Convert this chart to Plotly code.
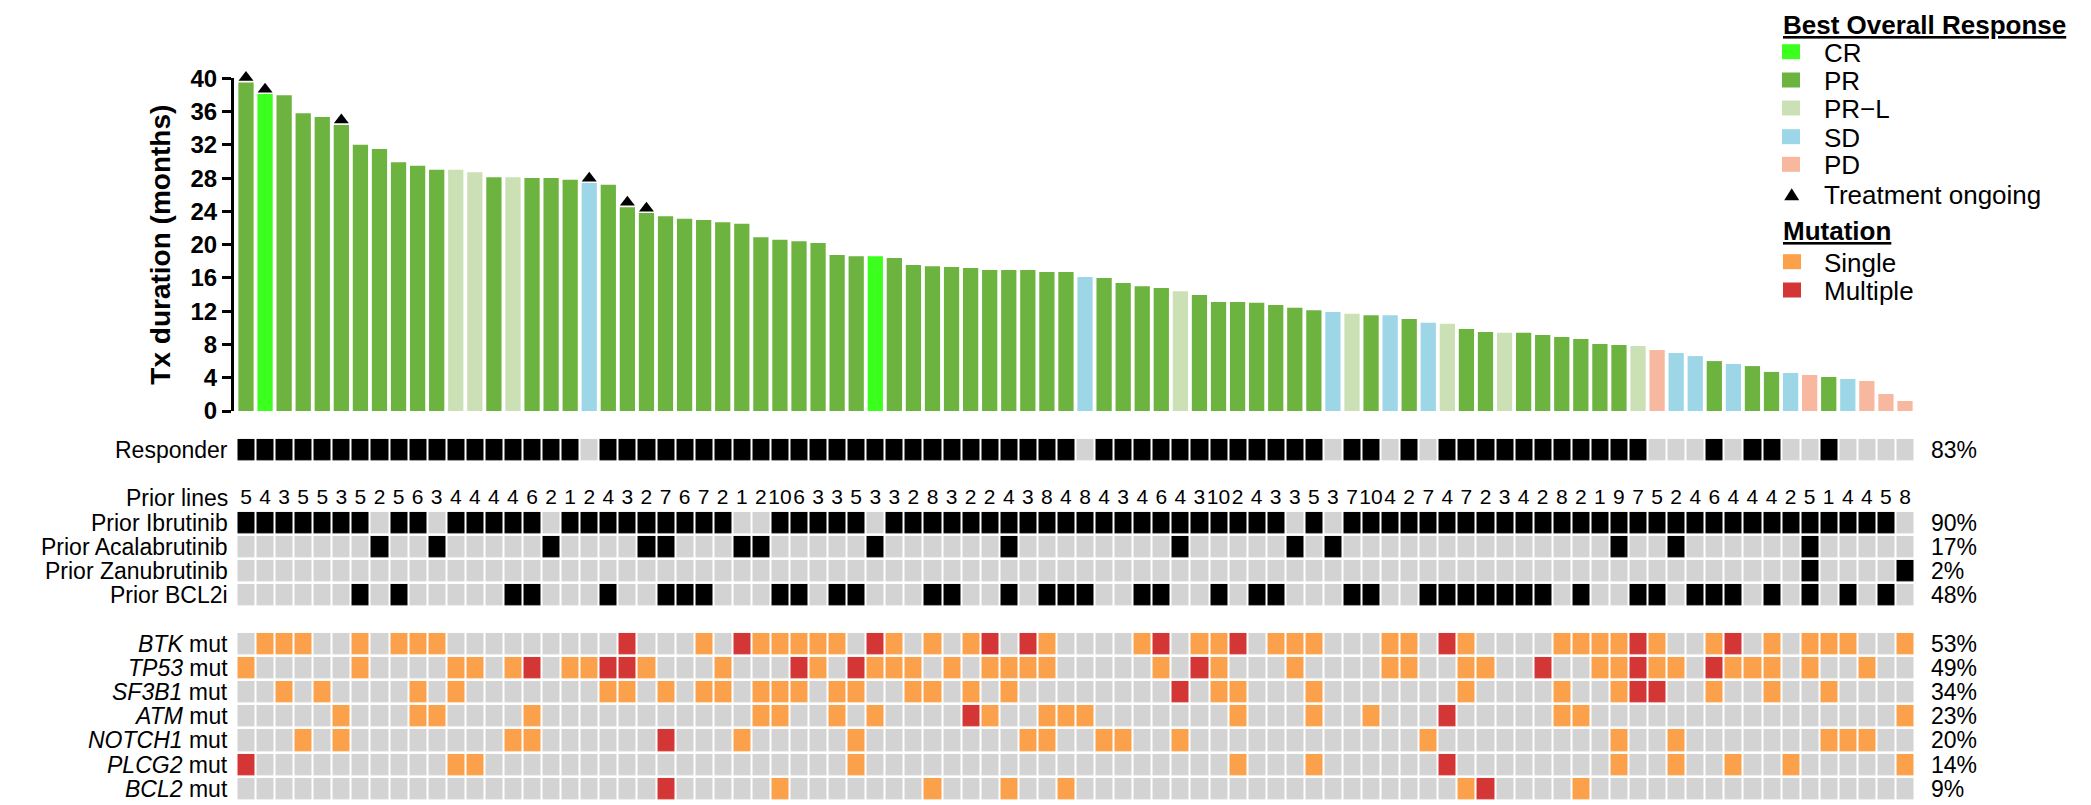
import plotly.graph_objects as go

W, H = 2091, 805
OFF = 8  # default page body margin: the figure starts 8px from the page corner
FONT = "Liberation Sans, Arial, Helvetica, sans-serif"

# ---------------- data ----------------
patients = list(range(1, 89))

durations = [39.5, 38.1, 37.95, 35.8, 35.35, 34.4, 32.0, 31.5, 29.9, 29.5,
             29.0, 29.0, 28.7, 28.1, 28.1, 28.0, 28.0, 27.8, 27.4, 27.2,
             24.5, 23.8, 23.4, 23.1, 22.97, 22.7, 22.5, 20.9, 20.6, 20.4,
             20.2, 18.76, 18.6, 18.6, 18.4, 17.55, 17.4, 17.3, 17.2, 16.95,
             16.95, 16.95, 16.7, 16.7, 16.1, 16.0, 15.4, 15.0, 14.8, 14.4,
             13.95, 13.1, 13.1, 13.0, 12.75, 12.4, 12.1, 11.9, 11.7, 11.5,
             11.5, 11.06, 10.6, 10.5, 9.86, 9.5, 9.4, 9.4, 9.14, 8.9,
             8.66, 8.06, 7.94, 7.8, 7.33, 6.97, 6.6, 6.0, 5.65, 5.4,
             4.7, 4.57, 4.33, 4.1, 3.85, 3.6, 2.04, 1.2]

responses = ["PR", "CR", "PR", "PR", "PR", "PR", "PR", "PR", "PR", "PR",
             "PR", "PR-L", "PR-L", "PR", "PR-L", "PR", "PR", "PR", "SD", "PR",
             "PR", "PR", "PR", "PR", "PR", "PR", "PR", "PR", "PR", "PR",
             "PR", "PR", "PR", "CR", "PR", "PR", "PR", "PR", "PR", "PR",
             "PR", "PR", "PR", "PR", "SD", "PR", "PR", "PR", "PR", "PR-L",
             "PR", "PR", "PR", "PR", "PR", "PR", "PR", "SD", "PR-L", "PR",
             "SD", "PR", "SD", "PR-L", "PR", "PR", "PR-L", "PR", "PR", "PR",
             "PR", "PR", "PR", "PR-L", "PD", "SD", "SD", "PR", "SD", "PR",
             "PR", "SD", "PD", "PR", "SD", "PD", "PD", "PD"]

ongoing = [1, 2, 6, 19, 21, 22]

prior_lines = [5, 4, 3, 5, 5, 3, 5, 2, 5, 6,
               3, 4, 4, 4, 4, 6, 2, 1, 2, 4,
               3, 2, 7, 6, 7, 2, 1, 2, 10, 6,
               3, 3, 5, 3, 3, 2, 8, 3, 2, 2,
               4, 3, 8, 4, 8, 4, 3, 4, 6, 4,
               3, 10, 2, 4, 3, 3, 5, 3, 7, 10,
               4, 2, 7, 4, 7, 2, 3, 4, 2, 8,
               2, 1, 9, 7, 5, 2, 4, 6, 4, 4,
               4, 2, 5, 1, 4, 4, 5, 8]

prior_ibrutinib = [1, 1, 1, 1, 1, 1, 1, 0, 1, 1,
                   0, 1, 1, 1, 1, 1, 0, 1, 1, 1,
                   1, 1, 1, 1, 1, 1, 0, 0, 1, 1,
                   1, 1, 1, 0, 1, 1, 1, 1, 1, 1,
                   1, 1, 1, 1, 1, 1, 1, 1, 1, 1,
                   1, 1, 1, 1, 1, 0, 1, 0, 1, 1,
                   1, 1, 1, 1, 1, 1, 1, 1, 1, 1,
                   1, 1, 1, 1, 1, 1, 1, 1, 1, 1,
                   1, 1, 1, 1, 1, 1, 1, 0]
prior_acalabrutinib_pts = [8, 11, 17, 22, 23, 27, 28, 34, 41, 50, 56, 58, 73, 76, 83]
prior_zanubrutinib_pts = [83, 88]
prior_bcl2i_pts = [7, 9, 15, 16, 20, 23, 24, 25, 29, 30, 32, 33, 37, 38, 41, 43, 44,
                   45, 48, 49, 52, 54, 55, 59, 60, 63, 64, 65, 66, 67, 68, 69, 71,
                   74, 75, 77, 78, 79, 81, 83, 85, 87]

btk_single = [2, 3, 4, 7, 9, 10, 11, 25, 28, 29, 30, 31, 32, 35, 37, 39, 43, 48, 51,
              52, 55, 56, 57, 61, 62, 65, 70, 71, 72, 73, 75, 78, 81, 83, 84, 85, 88]
btk_multiple = [21, 27, 34, 40, 42, 49, 53, 64, 74, 79]
tp53_single = [1, 7, 12, 13, 15, 18, 19, 22, 26, 31, 34, 35, 36, 38, 40, 41, 42, 43,
               49, 52, 56, 61, 62, 65, 66, 72, 73, 75, 76, 79, 80, 81, 83, 86]
tp53_multiple = [16, 20, 21, 30, 33, 51, 69, 74, 78]
sf3b1_single = [3, 5, 10, 12, 20, 21, 23, 25, 26, 28, 29, 30, 32, 33, 36, 37, 39, 41,
                52, 53, 57, 65, 70, 73, 78, 81, 84]
sf3b1_multiple = [50, 74, 75]
atm_single = [6, 10, 11, 16, 28, 29, 32, 34, 40, 43, 44, 45, 53, 57, 60, 70, 71, 88]
atm_multiple = [39, 64]
notch1_single = [4, 6, 15, 16, 27, 33, 42, 43, 46, 47, 50, 63, 73, 76, 84, 85, 86]
notch1_multiple = [23]
plcg2_single = [12, 13, 33, 53, 57, 73, 76, 79, 82, 88]
plcg2_multiple = [1, 64]
bcl2_single = [29, 37, 41, 44, 65, 71]
bcl2_multiple = [23, 66]

tick_values = [0, 4, 8, 12, 16, 20, 24, 28, 32, 36, 40]

response_colors = {"CR": "#3BFF1C", "PR": "#6DB33F", "PR-L": "#CBE0B5",
                   "SD": "#9DD6E6", "PD": "#F8B89F"}
legend_items = [("CR", "CR"), ("PR", "PR"), ("PR-L", "PR\u2212L"), ("SD", "SD"), ("PD", "PD")]
GRAY, BLACK, ORANGE, RED = "#D3D3D3", "#000000", "#FBA04B", "#D43535"

# ---------------- helpers (page pixels -> paper fractions) ----------------
def px(x):
    return (x - OFF) / W


def py(y):
    return 1 - (y - OFF) / H


def flags(pts):
    return [1 if p in pts else 0 for p in patients]


def mut_codes(single, multiple):
    return [3 if p in multiple else (2 if p in single else 0) for p in patients]


responder = [1 if r in ("CR", "PR", "PR-L") else 0 for r in responses]
empty = [None] * len(patients)

rows = [
    ("Responder", responder),
    ("", empty),
    ("Prior lines", empty),
    ("Prior Ibrutinib", prior_ibrutinib),
    ("Prior Acalabrutinib", flags(prior_acalabrutinib_pts)),
    ("Prior Zanubrutinib", flags(prior_zanubrutinib_pts)),
    ("Prior BCL2i", flags(prior_bcl2i_pts)),
    ("", empty),
    ("<i>BTK</i> mut", mut_codes(btk_single, btk_multiple)),
    ("<i>TP53</i> mut", mut_codes(tp53_single, tp53_multiple)),
    ("<i>SF3B1</i> mut", mut_codes(sf3b1_single, sf3b1_multiple)),
    ("<i>ATM</i> mut", mut_codes(atm_single, atm_multiple)),
    ("<i>NOTCH1</i> mut", mut_codes(notch1_single, notch1_multiple)),
    ("<i>PLCG2</i> mut", mut_codes(plcg2_single, plcg2_multiple)),
    ("<i>BCL2</i> mut", mut_codes(bcl2_single, bcl2_multiple)),
]
row_idx = list(range(len(rows)))
z = [r[1] for r in rows]

# ---------------- geometry ----------------
pitch = (1905 - 246) / 87
x_left = 246 - pitch / 2
x_right = 1905 + pitch / 2
row_pitch = 24.2
grid_top = 450 - row_pitch / 2
grid_bot = grid_top + row_pitch * len(rows)
y0_px, y40_px = 411.0, 78.3
px_per_month = (y0_px - y40_px) / 40
marker_top_px = 40.0
marker_range_top = (y0_px - marker_top_px) / px_per_month

fig = go.Figure()

fig.add_trace(go.Bar(
    x=patients, y=durations,
    marker=dict(color=[response_colors[r] for r in responses], line=dict(width=0)),
    hoverinfo="skip", xaxis="x", yaxis="y"))

tri_size = 13
fig.add_trace(go.Scatter(
    x=ongoing,
    y=[durations[p - 1] + (tri_size / 4 + 1.6) / px_per_month for p in ongoing],
    mode="markers",
    marker=dict(symbol="triangle-up", size=tri_size, color="black", line=dict(width=0)),
    hoverinfo="skip", xaxis="x", yaxis="y3"))

fig.add_trace(go.Heatmap(
    x=patients, y=row_idx, z=z, zmin=0, zmax=3,
    colorscale=[[0, GRAY], [0.1667, GRAY], [0.1667, BLACK], [0.5, BLACK],
                [0.5, ORANGE], [0.8333, ORANGE], [0.8333, RED], [1, RED]],
    showscale=False, xgap=2, ygap=2.6, hoverinfo="skip",
    xaxis="x", yaxis="y2"))

fig.add_trace(go.Scatter(
    x=patients, y=[2] * len(patients), mode="text",
    text=[str(v) for v in prior_lines],
    textfont=dict(size=21, color="black", family=FONT),
    textposition="middle center", cliponaxis=False, hoverinfo="skip",
    xaxis="x", yaxis="y2"))

annotations = []
for i, (label, vals) in enumerate(rows):
    if label:
        annotations.append(dict(
            x=px(230), xref="paper", y=i, yref="y2", xanchor="right", yanchor="middle",
            text=label, showarrow=False, font=dict(size=23, family=FONT, color="black")))
    if vals is not empty:
        pct = round(100 * sum(1 for v in vals if v) / len(vals))
        annotations.append(dict(
            x=px(1929), xref="paper", y=i, yref="y2", xanchor="left", yanchor="middle",
            text=f"{pct}%", showarrow=False, font=dict(size=23, family=FONT, color="black")))

# ---------------- custom legend ----------------
shapes = []
annotations.append(dict(x=px(1781), y=1.0, xref="paper", yref="paper",
                        xanchor="left", yanchor="top", showarrow=False,
                        text="<b><u>Best Overall Response</u></b>",
                        font=dict(size=26, family=FONT, color="black")))
item_y = [51.7, 80, 108, 136.7, 164.3]
for (key, lab), yc in zip(legend_items, item_y):
    shapes.append(dict(type="rect", xref="paper", yref="paper",
                       x0=px(1782), x1=px(1800), y0=py(yc + 7.5), y1=py(yc - 7.5),
                       fillcolor=response_colors[key], line=dict(width=0)))
    annotations.append(dict(x=px(1822), y=py(yc + 1), xref="paper", yref="paper",
                            xanchor="left", yanchor="middle", showarrow=False, text=lab,
                            font=dict(size=26, family=FONT, color="black")))
tc = 194.3
shapes.append(dict(type="path", xref="paper", yref="paper",
                   path=f"M{px(1784.2)},{py(tc + 6)} L{px(1799.2)},{py(tc + 6)} L{px(1791.7)},{py(tc - 6)} Z",
                   fillcolor="black", line=dict(width=0)))
annotations.append(dict(x=px(1822), y=py(tc + 1), xref="paper", yref="paper",
                        xanchor="left", yanchor="middle", showarrow=False,
                        text="Treatment ongoing", font=dict(size=26, family=FONT, color="black")))
annotations.append(dict(x=px(1781), y=py(231), xref="paper", yref="paper",
                        xanchor="left", yanchor="middle", showarrow=False,
                        text="<b><u>Mutation</u></b>",
                        font=dict(size=26, family=FONT, color="black")))
for lab, col, yc in [("Single", ORANGE, 261.7), ("Multiple", RED, 290)]:
    shapes.append(dict(type="rect", xref="paper", yref="paper",
                       x0=px(1783), x1=px(1801), y0=py(yc + 7.5), y1=py(yc - 7.5),
                       fillcolor=col, line=dict(width=0)))
    annotations.append(dict(x=px(1822), y=py(yc + 1), xref="paper", yref="paper",
                            xanchor="left", yanchor="middle", showarrow=False, text=lab,
                            font=dict(size=26, family=FONT, color="black")))

fig.update_layout(
    template="none",
    width=W, height=H, margin=dict(l=0, r=0, t=0, b=0, pad=0, autoexpand=False),
    paper_bgcolor="white", plot_bgcolor="rgba(0,0,0,0)",
    showlegend=False, bargap=0.2,
    font=dict(family=FONT, color="black"),
    xaxis=dict(domain=[px(x_left), px(x_right)], range=[0.5, 88.5], visible=False,
               anchor="y", fixedrange=True, automargin=False, showgrid=False, zeroline=False),
    yaxis=dict(domain=[py(y0_px), py(y40_px)], range=[0, 40], anchor="free",
               position=px(231.7), showline=True, linewidth=2.6, linecolor="black",
               ticks="outside", ticklen=9, tickwidth=2.6, tickcolor="black",
               tickvals=tick_values, showgrid=False, zeroline=False, automargin=False,
               tickfont=dict(size=24, family=FONT, color="black", weight="bold"),
               title=dict(text="Tx duration (months)", standoff=10,
                          font=dict(size=28, family=FONT, color="black", weight="bold"))),
    yaxis2=dict(domain=[py(grid_bot), py(grid_top)], range=[len(rows) - 0.5, -0.5],
                visible=False, anchor="x", automargin=False, showgrid=False, zeroline=False),
    yaxis3=dict(domain=[py(y0_px), py(marker_top_px)], range=[0, marker_range_top],
                visible=False, anchor="x", automargin=False, showgrid=False, zeroline=False),
    annotations=annotations, shapes=shapes,
)

fig.write_html("out.html")
